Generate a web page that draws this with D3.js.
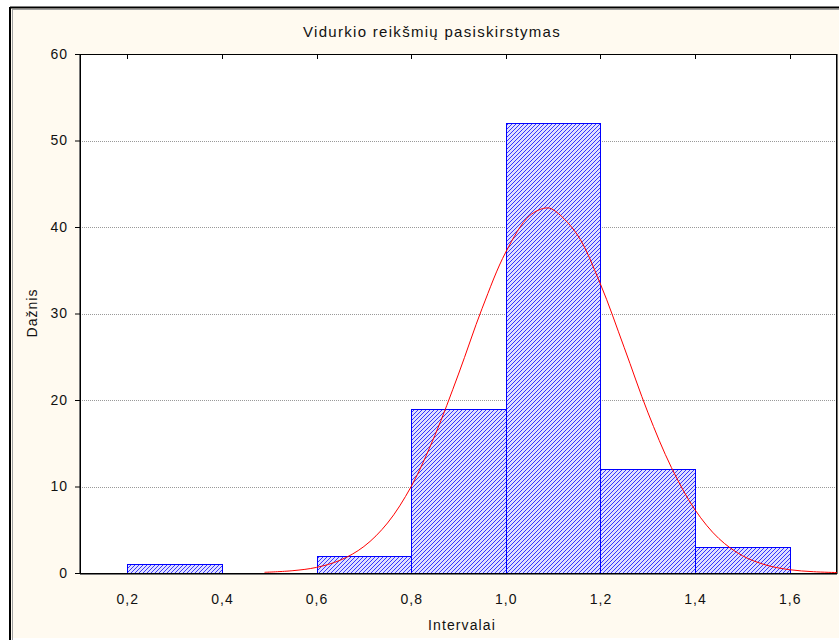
<!DOCTYPE html>
<html><head><meta charset="utf-8">
<script src="https://cdn.jsdelivr.net/npm/d3@7"></script>
<style>html,body{margin:0;padding:0;background:#fff;}svg{display:block;}</style>
</head><body>
<script>
// Data
const binStarts = [0.2, 0.4, 0.6, 0.8, 1.0, 1.2, 1.4];
const binEnds   = [0.4, 0.6, 0.8, 1.0, 1.2, 1.4, 1.6];
const counts    = [1, 0, 2, 19, 52, 12, 3];
const curveX = [0.49,0.55,0.60,0.65,0.70,0.75,0.80,0.85,0.90,0.95,1.00,1.05,1.085,1.10,1.15,1.20,1.25,1.30,1.35,1.40,1.45,1.50,1.55,1.60,1.65,1.70];
const curveY = [0.08,0.27,0.65,1.48,3.06,5.78,10.0,15.9,23.0,30.6,37.1,41.3,42.2,42.0,39.2,33.4,26.1,18.6,12.2,7.3,4.0,2.0,0.92,0.38,0.15,0.05];
const xTicks = [0.2,0.4,0.6,0.8,1.0,1.2,1.4,1.6];
const yTicks = [0,10,20,30,40,50,60];
const title = "Vidurkio reikšmių pasiskirstymas";
const xTitle = "Intervalai";
const yTitle = "Dažnis";

const W = 839, H = 640;
const L = 80, R = 837, T = 54, B = 573;
const svg = d3.select("body").append("svg").attr("width", W).attr("height", H);
const font = "'Liberation Sans', Arial, sans-serif";

// outer frame
svg.append("rect").attr("x",0).attr("y",0).attr("width",W).attr("height",H).attr("fill","#fff");
svg.append("rect").attr("x",10).attr("y",7).attr("width",W-10).attr("height",H-9).attr("fill","#fffaf0");
svg.append("line").attr("x1",10).attr("x2",W).attr("y1",7.5).attr("y2",7.5).attr("stroke","#000").attr("stroke-width",2);
svg.append("line").attr("x1",10).attr("x2",10).attr("y1",7).attr("y2",H).attr("stroke","#000").attr("stroke-width",2);
svg.append("line").attr("x1",12).attr("x2",W).attr("y1",9.5).attr("y2",9.5).attr("stroke","#a0a0a0").attr("stroke-width",1);
svg.append("line").attr("x1",12.5).attr("x2",12.5).attr("y1",9).attr("y2",H).attr("stroke","#a0a0a0").attr("stroke-width",1);

const x = d3.scaleLinear().domain([0.1, 1.7]).range([L, R]);
const y = d3.scaleLinear().domain([0, 60]).range([B, T]);

// plot background
svg.append("rect").attr("x",L).attr("y",T).attr("width",R-L).attr("height",B-T).attr("fill","#fff");

// hatch pattern
const defs = svg.append("defs");
const pat = defs.append("pattern").attr("id","hatch").attr("patternUnits","userSpaceOnUse")
  .attr("width",4).attr("height",4);
pat.append("rect").attr("width",4).attr("height",4).attr("fill","#e0e0ff");
pat.append("path").attr("d","M-1,1 L1,-1 M0,4 L4,0 M3,5 L5,3")
  .attr("stroke","#3535ff").attr("stroke-width",1);

// grid
svg.append("g").selectAll("line").data(yTicks.filter(d => d>0 && d<60)).join("line")
  .attr("x1",L).attr("x2",R).attr("y1",d=>Math.round(y(d))+0.5).attr("y2",d=>Math.round(y(d))+0.5)
  .attr("stroke","#999").attr("stroke-dasharray","1,1");

// bars
svg.append("g").selectAll("rect").data(counts.map((c,i)=>({x0:binStarts[i],x1:binEnds[i],c}))).join("rect")
  .filter(d=>d.c>0)
  .attr("x",d=>Math.round(x(d.x0))+0.5).attr("y",d=>Math.round(y(d.c))+0.5)
  .attr("width",d=>Math.round(x(d.x1))-Math.round(x(d.x0)))
  .attr("height",d=>Math.round(y(0))-Math.round(y(d.c)))
  .attr("fill","url(#hatch)").attr("stroke","#0000ff").attr("stroke-width",1);

// plot frame
svg.append("rect").attr("x",L+0.5).attr("y",T+0.5).attr("width",R-L-1).attr("height",B-T).attr("fill","none")
  .attr("stroke","#000").attr("stroke-width",1);
svg.append("line").attr("x1",L-0.5).attr("x2",L-0.5).attr("y1",T).attr("y2",B+1).attr("stroke","#777");
svg.append("line").attr("x1",L).attr("x2",R).attr("y1",B+1.5).attr("y2",B+1.5).attr("stroke","#777");
svg.append("line").attr("x1",R+0.5).attr("x2",R+0.5).attr("y1",T).attr("y2",B+1).attr("stroke","#777");

// normal curve
const line = d3.line().x((d,i)=>x(curveX[i])).y(d=>y(d)).curve(d3.curveCatmullRom);
svg.append("path").datum(curveY).attr("d",line).attr("fill","none").attr("stroke","#ff0000").attr("stroke-width",1);

// y axis
const yAxis = svg.append("g").attr("transform",`translate(${L},0)`)
  .call(d3.axisLeft(y).tickValues(yTicks).tickSize(5).tickPadding(7).tickFormat(d3.format("d")));
yAxis.select(".domain").remove();
yAxis.selectAll("line").attr("stroke","#000");
yAxis.selectAll("text").attr("font-family",font).attr("font-size",14).attr("letter-spacing",1).attr("fill","#111");

// x ticks at top (inward) and labels at bottom
svg.append("g").selectAll("line").data(xTicks).join("line")
  .attr("x1",d=>Math.round(x(d))+0.5).attr("x2",d=>Math.round(x(d))+0.5).attr("y1",T).attr("y2",T+5).attr("stroke","#000");
const xAxis = svg.append("g").attr("transform",`translate(0,${B})`)
  .call(d3.axisBottom(x).tickValues(xTicks).tickSize(0).tickPadding(21).tickFormat(d=>d3.format(".1f")(d).replace(".",",")));
xAxis.select(".domain").remove();
xAxis.selectAll("text").attr("font-family",font).attr("font-size",14).attr("letter-spacing",1).attr("fill","#111");

// titles
svg.append("text").attr("x",432).attr("y",37).attr("text-anchor","middle").attr("font-family",font).attr("font-size",15).attr("letter-spacing",1.3).attr("fill","#111").text(title);
svg.append("text").attr("x",462).attr("y",630).attr("text-anchor","middle").attr("font-family",font).attr("font-size",14).attr("letter-spacing",1.1).attr("fill","#111").text(xTitle);
svg.append("text").attr("transform","translate(37,313) rotate(-90)").attr("text-anchor","middle").attr("font-family",font).attr("font-size",14).attr("letter-spacing",1).attr("fill","#111").text(yTitle);
</script>
</body></html>
